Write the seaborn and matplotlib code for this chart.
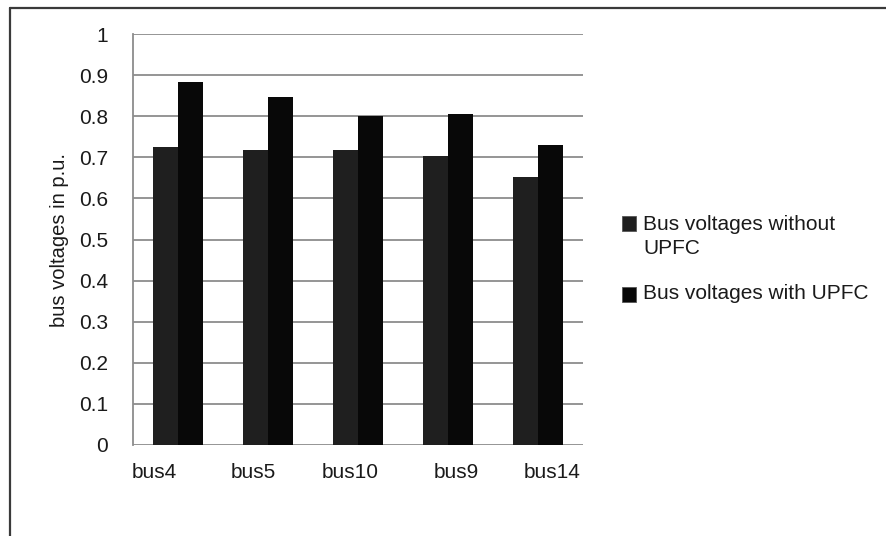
import matplotlib
matplotlib.use("Agg")
import matplotlib.pyplot as plt
from matplotlib.lines import Line2D
from matplotlib.patches import Rectangle
from matplotlib.transforms import ScaledTranslation
import seaborn as sns
import pandas as pd

buses = ["bus4", "bus5", "bus10", "bus9", "bus14"]
without_upfc = [0.726, 0.718, 0.717, 0.703, 0.653]
with_upfc = [0.883, 0.846, 0.800, 0.806, 0.731]
series_names = ["Bus voltages without UPFC", "Bus voltages with UPFC"]
y_ticks = [0, 0.1, 0.2, 0.3, 0.4, 0.5, 0.6, 0.7, 0.8, 0.9, 1]
y_tick_labels = ["0", "0.1", "0.2", "0.3", "0.4", "0.5", "0.6", "0.7", "0.8", "0.9", "1"]

df = pd.DataFrame({
    "bus": buses * 2,
    "voltage": without_upfc + with_upfc,
    "series": [series_names[0]] * len(buses) + [series_names[1]] * len(buses),
})

sns.set_style("white")
plt.rcParams["font.family"] = ["Liberation Sans", "DejaVu Sans"]
FS = 15
TXT = "#1a1a1a"

W, H = 886, 536
fig = plt.figure(figsize=(W / 100, H / 100), dpi=100)
ax = fig.add_axes([133 / W, (H - 445) / H, (583 - 133) / W, (445 - 34) / H])

colors = ["#1f1f1f", "#080808"]
sns.barplot(data=df, x="bus", y="voltage", hue="series", palette=colors,
            width=0.545, gap=0, edgecolor="none", linewidth=0, saturation=1,
            ax=ax, legend=False, zorder=3)

grid_col = "#8c8c8c"
ax.set_ylim(0, 1)
ax.set_xlim(-0.5, len(buses) - 0.5)
ax.set_yticks(y_ticks)
ax.set_yticklabels(y_tick_labels)
ax.yaxis.grid(True, color=grid_col, linewidth=1.3, zorder=0)
ax.set_axisbelow(True)
for side in ["top", "right", "bottom"]:
    ax.spines[side].set_visible(False)
ax.spines["left"].set_color(grid_col)
ax.spines["left"].set_linewidth(1.3)
ax.tick_params(axis="y", direction="out", length=7, width=1.3, color=grid_col,
               pad=11, labelsize=FS, labelcolor=TXT)
ax.tick_params(axis="x", length=0, pad=13, labelsize=FS, labelcolor=TXT)
ax.set_xlabel("")
ax.set_ylabel("")

# category labels sit slightly off-centre under each group
label_shift_px = [-24, -15, -8, 8, 14]
for lbl, dx in zip(ax.get_xticklabels(), label_shift_px):
    lbl.set_transform(lbl.get_transform() + ScaledTranslation(dx / 100, 0, fig.dpi_scale_trans))

fig.text(59.5 / W, 1 - 240 / H, "bus voltages in p.u.", rotation=90,
         ha="center", va="center", fontsize=FS - 0.5, color=TXT)

# legend keys and labels
def fy(py):
    return 1 - py / H

key_x, key_w, key_h = 622, 14, 15
fig.add_artist(Rectangle((key_x / W, fy(231)), key_w / W, key_h / H,
                         transform=fig.transFigure, facecolor=colors[0],
                         edgecolor="#555555", linewidth=0.6))
fig.add_artist(Rectangle((key_x / W, fy(302)), key_w / W, key_h / H,
                         transform=fig.transFigure, facecolor=colors[1],
                         edgecolor="#555555", linewidth=0.6))
fig.text(643 / W, fy(230.5), "Bus voltages without", fontsize=FS, color=TXT,
         ha="left", va="baseline")
fig.text(643 / W, fy(254), "UPFC", fontsize=FS, color=TXT,
         ha="left", va="baseline")
fig.text(643 / W, fy(299), series_names[1], fontsize=FS, color=TXT,
         ha="left", va="baseline")

# outer frame lines
frame_col = "#3a3a3a"
fig.add_artist(Line2D([10 / W, 1], [fy(8), fy(8)], color=frame_col, lw=1.6))
fig.add_artist(Line2D([10 / W, 10 / W], [0, fy(8)], color=frame_col, lw=1.6))

fig.savefig("out.png", dpi=100, facecolor="white")
